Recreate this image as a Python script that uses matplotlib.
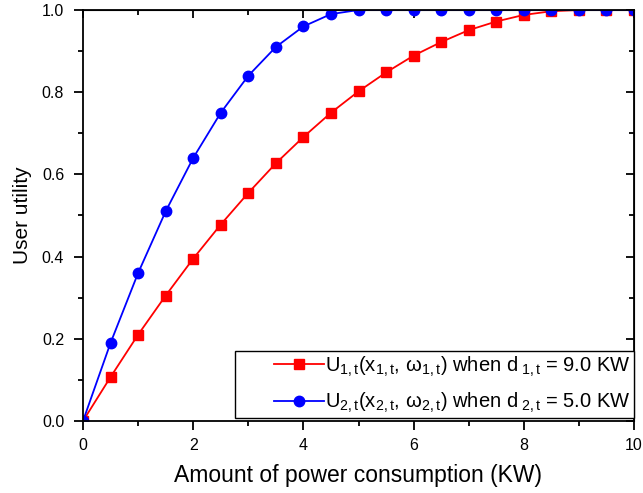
import matplotlib
matplotlib.use("Agg")
import matplotlib.pyplot as plt
from matplotlib.ticker import MultipleLocator, FormatStrFormatter
from matplotlib.legend_handler import HandlerLine2D
from matplotlib.lines import Line2D

plt.rcParams['font.family'] = ['Liberation Sans', 'DejaVu Sans']
plt.rcParams['mathtext.fontset'] = 'custom'
plt.rcParams['mathtext.rm'] = 'Liberation Sans'
plt.rcParams['mathtext.it'] = 'Liberation Sans'

# power consumption (KW)
x = [0, 0.5, 1, 1.5, 2, 2.5, 3, 3.5, 4, 4.5, 5, 5.5, 6, 6.5, 7, 7.5, 8, 8.5, 9, 9.5, 10]
# user 1, d = 9.0 KW
u1 = [0.0, 0.107, 0.21, 0.305, 0.395, 0.478, 0.555, 0.627, 0.691, 0.75, 0.802,
      0.848, 0.889, 0.922, 0.951, 0.972, 0.988, 0.997, 1.0, 1.0, 1.0]
# user 2, d = 5.0 KW
u2 = [0.0, 0.19, 0.36, 0.51, 0.64, 0.75, 0.84, 0.91, 0.96, 0.99, 1.0,
      1.0, 1.0, 1.0, 1.0, 1.0, 1.0, 1.0, 1.0, 1.0, 1.0]

label1 = r'$\mathrm{U_{1,t}(x_{1,t},\,\omega_{1,t})}$ when d$_{\mathrm{\ 1,t}}$ = 9.0 KW'
label2 = r'$\mathrm{U_{2,t}(x_{2,t},\,\omega_{2,t})}$ when d$_{\mathrm{\ 2,t}}$ = 5.0 KW'

fig = plt.figure(figsize=(6.43, 4.93), dpi=100)
ax = fig.add_axes([83 / 643, 1 - 421 / 493, (634 - 83) / 643, (421 - 10) / 493])

l1, = ax.plot(x, u1, color='#ff0000', marker='s', markersize=7, linewidth=1.3, label=label1)
l2, = ax.plot(x, u2, color='#0000ff', marker='o', markersize=7.5, linewidth=1.3, label=label2)
# clip markers at the frame like the original
l1.set_clip_path(ax.patch)
l2.set_clip_path(ax.patch)

ax.set_xlim(0, 10)
ax.set_ylim(0, 1.0)
ax.xaxis.set_major_locator(MultipleLocator(2))
ax.xaxis.set_minor_locator(MultipleLocator(1))
ax.yaxis.set_major_locator(MultipleLocator(0.2))
ax.yaxis.set_minor_locator(MultipleLocator(0.1))
ax.yaxis.set_major_formatter(FormatStrFormatter('%.1f'))

for s in ax.spines.values():
    s.set_linewidth(1.3)

ax.tick_params(which='both', direction='out', width=1.3, labelsize=11.5,
               top=False, right=False)
ax.tick_params(which='major', length=6.5)
ax.tick_params(which='minor', length=3.5)
ax.tick_params(axis='x', which='major', pad=6)
ax.tick_params(axis='y', which='major', pad=7)

# inward ticks on top and right
ax_top = ax.secondary_xaxis('top')
ax_top.xaxis.set_major_locator(MultipleLocator(2))
ax_top.xaxis.set_minor_locator(MultipleLocator(1))
ax_top.tick_params(which='both', direction='in', width=1.3, labeltop=False)
ax_top.tick_params(which='major', length=6)
ax_top.tick_params(which='minor', length=3.5)
ax_right = ax.secondary_yaxis('right')
ax_right.yaxis.set_major_locator(MultipleLocator(0.2))
ax_right.yaxis.set_minor_locator(MultipleLocator(0.1))
ax_right.tick_params(which='both', direction='in', width=1.3, labelright=False)
ax_right.tick_params(which='major', length=6)
ax_right.tick_params(which='minor', length=3.5)

ax.set_xlabel('Amount of power consumption (KW)', fontsize=16.5, labelpad=8)
ax.set_ylabel('User utility', fontsize=15, labelpad=7)

# legend handle drawn on the right part of a wider slot (extra left margin)
fs_px = 14.5 * 100 / 72
handler = HandlerLine2D(xpad=36 / fs_px)
leg = ax.legend(loc='lower right', bbox_to_anchor=(1, 3 / 411), fontsize=14.5,
                fancybox=False, framealpha=1, edgecolor='black', borderaxespad=0,
                handlelength=86 / fs_px, handletextpad=0.05, labelspacing=0.6,
                borderpad=0.15, handler_map={Line2D: handler})
leg.get_frame().set_linewidth(1.0)

fig.savefig('out.png', dpi=100)
